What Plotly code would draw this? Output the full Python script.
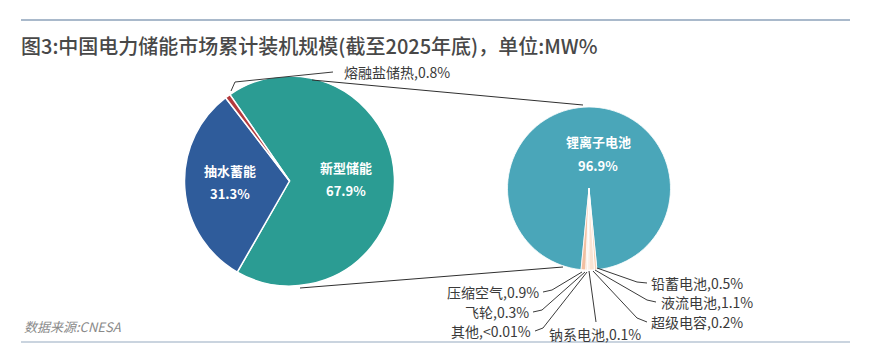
import plotly.graph_objects as go

W, H = 879, 357

# ---- data ----
main_labels = ['新型储能', '抽水蓄能', '熔融盐储热']
main_values = [67.9, 31.3, 0.8]
main_colors = ['#2b9c93', '#2f5c9b', '#b33a3d']

sub_labels = ['锂离子电池', '铅蓄电池', '液流电池', '超级电容', '钠系电池', '其他', '飞轮', '压缩空气']
sub_values = [96.9, 0.5, 1.1, 0.2, 0.1, 0.01, 0.3, 0.9]
sub_display = ['96.9%', '0.5%', '1.1%', '0.2%', '0.1%', '&lt;0.01%', '0.3%', '0.9%']
sub_colors = ['#4aa6b9', '#f7d2b6', '#fbe4d3', '#f0b08c', '#fcebdd', '#fef3ea', '#f8dbc3', '#f2c0a2']

title_text = '图3:中国电力储能市场累计装机规模(截至2025年底)，单位:MW%'
source_text = '数据来源:CNESA'


def px(x):
    return x / W


def py(y):
    return 1 - y / H


def dom(cx, cy, r):
    return dict(x=[px(cx - r), px(cx + r)], y=[py(cy + r), py(cy - r)])


fig = go.Figure()

fig.add_trace(go.Pie(
    labels=main_labels, values=main_values, sort=False, direction='clockwise',
    rotation=-34.6, textinfo='none', hoverinfo='label+percent',
    marker=dict(colors=main_colors, line=dict(color='white', width=1.5)),
    domain=dom(289.5, 181, 105), showlegend=False,
))

fig.add_trace(go.Pie(
    labels=sub_labels, values=sub_values, sort=False, direction='clockwise',
    rotation=185.6, textinfo='none', hoverinfo='label+value',
    marker=dict(colors=sub_colors, line=dict(color='white', width=0.8)),
    domain=dom(589, 188.5, 81.5), showlegend=False,
))

shapes = []
annotations = []


def line(pts, color='#3a3a3a', width=1):
    for (x0, y0), (x1, y1) in zip(pts[:-1], pts[1:]):
        shapes.append(dict(type='line', xref='paper', yref='paper',
                           x0=px(x0), y0=py(y0), x1=px(x1), y1=py(y1),
                           line=dict(color=color, width=width)))


def text(x, y, t, size=14, color='#3a3a3a', xanchor='left', bold=False, italic=False, weight=None):
    if bold:
        t = '<b>' + t + '</b>'
    if italic:
        t = '<i>' + t + '</i>'
    font = dict(size=size, color=color, family='Noto Sans CJK SC')
    if weight:
        font['weight'] = weight
    annotations.append(dict(xref='paper', yref='paper', x=px(x), y=py(y), text=t,
                            showarrow=False, xanchor=xanchor, yanchor='middle',
                            borderpad=0, font=font))


# header / footer rules
line([(21, 20), (850, 20)], color='#a9b9cb', width=2)
line([(21, 342), (850, 342)], color='#b9c6d4', width=1.5)

text(20, 45, title_text, size=20, color='#484848', weight=500)
text(23, 326, source_text, size=13, color='#8a8a8a', italic=True)

# connectors between pies
line([(312, 80), (583, 105)], color='#2f2f2f', width=1)
line([(300, 288), (563, 267)], color='#2f2f2f', width=1)

# main pie labels
text(230, 170, main_labels[1], size=13, color='white', xanchor='center', bold=True)
text(230, 193, f'{main_values[1]}%', size=13, color='white', xanchor='center', bold=True)
text(346, 167, main_labels[0], size=13, color='white', xanchor='center', bold=True)
text(346, 190, f'{main_values[0]}%', size=13, color='white', xanchor='center', bold=True)

line([(231, 91), (235, 82), (333, 72)], color='#3a3a3a')
text(343, 72, f'{main_labels[2]},{main_values[2]}%', size=14)

# sub pie labels
text(598, 142, sub_labels[0], size=13, color='white', xanchor='center', bold=True)
text(598, 165, sub_display[0], size=13, color='white', xanchor='center', bold=True)

# leader lines for small slices
line([(597, 268), (637, 282), (647, 283)])
text(650, 283, f'{sub_labels[1]},{sub_display[1]}')
line([(595, 270), (647, 300), (656, 302)])
text(660, 302, f'{sub_labels[2]},{sub_display[2]}')
line([(593, 271), (637, 318), (647, 322)])
text(650, 322, f'{sub_labels[3]},{sub_display[3]}')
line([(589, 271), (596, 322)])
text(548, 334, f'{sub_labels[4]},{sub_display[4]}')
line([(587, 272), (543, 328), (535, 331)])
text(532, 331, f'{sub_labels[5]},{sub_display[5]}', xanchor='right')
line([(585, 272), (542, 310), (533, 312)])
text(530, 312, f'{sub_labels[6]},{sub_display[6]}', xanchor='right')
line([(582, 272), (552, 290), (543, 292)])
text(540, 292, f'{sub_labels[7]},{sub_display[7]}', xanchor='right')

fig.update_layout(
    width=W, height=H, autosize=False,
    margin=dict(l=0, r=0, t=0, b=0),
    paper_bgcolor='white', plot_bgcolor='white',
    shapes=shapes, annotations=annotations,
    font=dict(family='Noto Sans CJK SC'),
)

fig.write_html('out.html', config={'displayModeBar': False},
               post_script="document.body.style.margin='0';document.body.style.overflow='hidden';")
